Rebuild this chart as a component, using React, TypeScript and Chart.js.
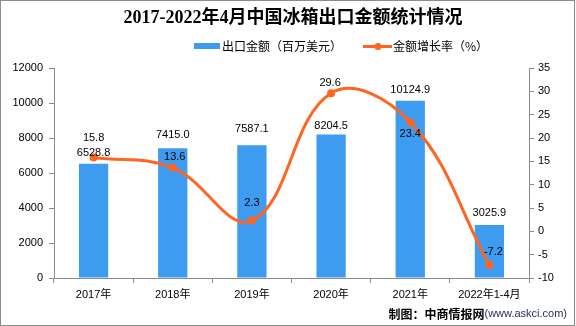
import React, { useEffect, useRef } from "react";
import { Chart, registerables } from "chart.js";

Chart.register(...registerables);

const titleText = "2017-2022年4月中国冰箱出口金额统计情况";
const categories = ["2017年", "2018年", "2019年", "2020年", "2021年", "2022年1-4月"];
const exportValues = [6528.8, 7415.0, 7587.1, 8204.5, 10124.9, 3025.9];
const growthRates = [15.8, 13.6, 2.3, 29.6, 23.4, -7.2];
const barLegend = "出口金额（百万美元）";
const lineLegend = "金额增长率（%）";
const footerLeft = "制图：中商情报网";
const footerRight = "(www.askci.com)";

// label placement tweaks (styling only)
const barLabelDy = [-11, -13, -16, -8, -11, -12];
const lineLabelDy = [-20, -11, -18, -10, 12, -13];
const lineLabelDx = [0, 2, 0, -1, 0, 4];

const BAR_COLOR = "#3D9CF0";
const LINE_COLOR = "#FF6522";
const AXIS_COLOR = "#8c8c8c";
const NUM_FONT = '11px "Liberation Sans", "Noto Sans CJK SC", sans-serif';
const CJK_FONT = '12px "Noto Sans CJK SC", sans-serif';

const decorPlugin = {
  id: "decor",
  beforeDraw(chart: any) {
    const ctx = chart.ctx;
    ctx.save();
    ctx.fillStyle = "#ffffff";
    ctx.fillRect(0, 0, chart.width, chart.height);
    ctx.restore();
  },
  afterDraw(chart: any) {
    const ctx = chart.ctx;
    ctx.save();
    // frame
    ctx.strokeStyle = "#8c8c8c";
    ctx.lineWidth = 1;
    ctx.strokeRect(0.5, 0.5, 574, 325);

    // title
    ctx.fillStyle = "#000";
    ctx.font = 'bold 18px "Liberation Serif", "Noto Sans CJK SC", serif';
    ctx.textAlign = "center";
    ctx.textBaseline = "middle";
    ctx.fillText(titleText, 293, 18);

    // legend
    ctx.fillStyle = BAR_COLOR;
    ctx.fillRect(194, 43, 26, 6);
    ctx.fillStyle = "#000";
    ctx.font = CJK_FONT;
    ctx.textAlign = "left";
    ctx.fillText(barLegend, 222, 46.5);
    ctx.strokeStyle = LINE_COLOR;
    ctx.lineWidth = 3;
    ctx.beginPath();
    ctx.moveTo(363, 46.5);
    ctx.lineTo(392, 46.5);
    ctx.stroke();
    ctx.fillStyle = LINE_COLOR;
    ctx.beginPath();
    ctx.arc(378, 46.5, 3.5, 0, Math.PI * 2);
    ctx.fill();
    ctx.fillStyle = "#000";
    ctx.fillText(lineLegend, 393, 46.5);

    // data labels
    ctx.textAlign = "center";
    ctx.font = NUM_FONT;
    const barMeta = chart.getDatasetMeta(0);
    barMeta.data.forEach((el: any, i: number) => {
      ctx.fillText(exportValues[i].toFixed(1), el.x, el.y + barLabelDy[i]);
    });
    const lineMeta = chart.getDatasetMeta(1);
    lineMeta.data.forEach((el: any, i: number) => {
      ctx.fillText(growthRates[i].toFixed(1), el.x + lineLabelDx[i], el.y + lineLabelDy[i]);
    });

    // footer
    ctx.textAlign = "right";
    ctx.font = '11px "Liberation Sans", sans-serif';
    ctx.fillStyle = "#1f2a5a";
    ctx.fillText(footerRight, 567, 314);
    const w = ctx.measureText(footerRight).width;
    ctx.font = 'bold 12px "Noto Sans CJK SC", sans-serif';
    ctx.fillStyle = "#000";
    ctx.fillText(footerLeft, 567 - w, 314);
    ctx.restore();
  },
};

const plainTick = (v: any) => String(v);

export default function App() {
  const ref = useRef<HTMLCanvasElement | null>(null);
  useEffect(() => {
    if (!ref.current) return;
    const chart = new Chart(ref.current, {
      type: "bar",
      data: {
        labels: categories,
        datasets: [
          {
            type: "bar",
            label: barLegend,
            data: exportValues,
            backgroundColor: BAR_COLOR,
            yAxisID: "y",
            categoryPercentage: 1,
            barPercentage: 0.37,
            order: 2,
          },
          {
            type: "line",
            label: lineLegend,
            data: growthRates,
            borderColor: LINE_COLOR,
            backgroundColor: LINE_COLOR,
            borderWidth: 3,
            pointRadius: 4,
            pointBackgroundColor: LINE_COLOR,
            pointBorderWidth: 0,
            tension: 0.4,
            yAxisID: "y1",
            order: 1,
            clip: false,
          } as any,
        ],
      },
      options: {
        responsive: false,
        animation: false,
        devicePixelRatio: 1,
        layout: { padding: { top: 68, left: 0, right: 0, bottom: 0 } },
        plugins: { legend: { display: false }, title: { display: false }, tooltip: { enabled: false } },
        scales: {
          x: {
            offset: true,
            grid: { display: true, drawOnChartArea: false, offset: true, tickLength: 5, color: AXIS_COLOR },
            border: { display: true, color: AXIS_COLOR },
            ticks: { color: "#000", font: { family: '"Liberation Sans", "Noto Sans CJK SC", sans-serif', size: 11 }, padding: 5, maxRotation: 0, autoSkip: false },
            afterFit(scale: any) { scale.height = 48; },
          },
          y: {
            position: "left",
            min: 0,
            max: 12000,
            ticks: { stepSize: 2000, color: "#000", font: { family: '"Liberation Sans", sans-serif', size: 11 }, padding: 6, callback: plainTick },
            grid: { display: true, drawOnChartArea: false, tickLength: 5, color: AXIS_COLOR },
            border: { display: true, color: AXIS_COLOR },
            afterFit(scale: any) { scale.width = 54; },
          },
          y1: {
            position: "right",
            min: -10,
            max: 35,
            ticks: { stepSize: 5, color: "#000", font: { family: '"Liberation Sans", sans-serif', size: 11 }, padding: 4, callback: plainTick },
            grid: { display: true, drawOnChartArea: false, tickLength: 5, color: AXIS_COLOR },
            border: { display: true, color: AXIS_COLOR },
            afterFit(scale: any) { scale.width = 47; },
          },
        },
      },
      plugins: [decorPlugin],
    });
    return () => chart.destroy();
  }, []);
  return (
    <div style={{ position: "fixed", left: 0, top: 0, width: 576, height: 326, background: "#fff" }}>
      <canvas ref={ref} width={576} height={326} style={{ display: "block" }} />
    </div>
  );
}
